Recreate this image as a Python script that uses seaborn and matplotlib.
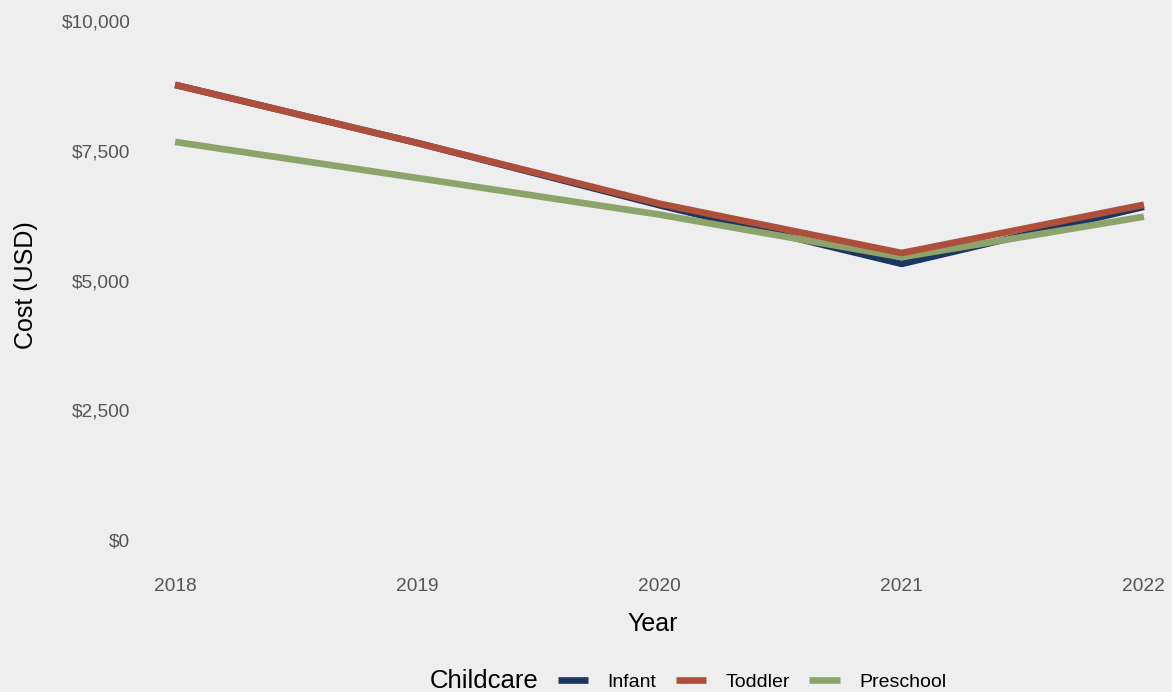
import matplotlib
matplotlib.use("Agg")
import matplotlib.pyplot as plt
from matplotlib.lines import Line2D
from matplotlib.ticker import FuncFormatter
import pandas as pd
import seaborn as sns

# Average annual childcare cost by age group
years = [2018, 2019, 2020, 2021, 2022]
infant = [8770, 7650, 6450, 5320, 6420]
toddler = [8770, 7650, 6480, 5530, 6460]
preschool = [7670, 6975, 6270, 5450, 6230]

categories = ["Infant", "Toddler", "Preschool"]
colors = {"Infant": "#1d3561", "Toddler": "#ad4f3a", "Preschool": "#8ca46b"}
y_ticks = [0, 2500, 5000, 7500, 10000]

df = pd.DataFrame({
    "Year": years * 3,
    "Cost": infant + toddler + preschool,
    "Childcare": ["Infant"] * 5 + ["Toddler"] * 5 + ["Preschool"] * 5,
})

bg = "#eeeeee"
sns.set_theme(style="white")
plt.rcParams["font.family"] = ["Liberation Sans", "DejaVu Sans"]

fig = plt.figure(figsize=(11.72, 6.92), dpi=100, facecolor=bg)
W, H = 1172, 692
ax = fig.add_axes([140 / W, 1 - 560 / H, (1165 - 140) / W, (560 - 10) / H])
ax.set_facecolor(bg)

# draw order: infant underneath, then preschool, toddler on top
lw = 4.8
for name, z in [("Infant", 2), ("Preschool", 3), ("Toddler", 4)]:
    sns.lineplot(data=df[df["Childcare"] == name], x="Year", y="Cost",
                 color=colors[name], linewidth=lw, ax=ax, legend=False,
                 zorder=z, solid_capstyle="butt")

ax.set_xlim(2017.855, 2022.087)
ax.set_ylim(-385, 10212)
ax.set_xticks(years)
ax.set_xticklabels([str(y) for y in years])
ax.set_yticks(y_ticks)
ax.yaxis.set_major_formatter(FuncFormatter(lambda v, p: f"${v:,.0f}"))
ax.tick_params(axis="both", length=0, labelsize=13.8, colors="#555555")
ax.tick_params(axis="y", pad=7)
ax.tick_params(axis="x", pad=13)
for s in ax.spines.values():
    s.set_visible(False)
ax.grid(False)

ax.set_xlabel("Year", fontsize=18, color="black", labelpad=12)
ax.set_ylabel("Cost (USD)", fontsize=18, color="black", labelpad=17)

fig.text(430 / W, 1 - 681 / H, "Childcare", fontsize=18.5, color="black",
         ha="left", va="center")
handles = [Line2D([0], [0], color=colors[c], linewidth=lw, solid_capstyle="butt")
           for c in categories]
fig.legend(handles, categories, loc="center", ncol=3,
           bbox_to_anchor=(752 / W, 1 - 682 / H), frameon=False,
           fontsize=14, handlelength=1.55, handletextpad=1.0,
           columnspacing=1.0, borderpad=0, labelcolor="black")

fig.savefig("out.png", dpi=100, facecolor=bg)
